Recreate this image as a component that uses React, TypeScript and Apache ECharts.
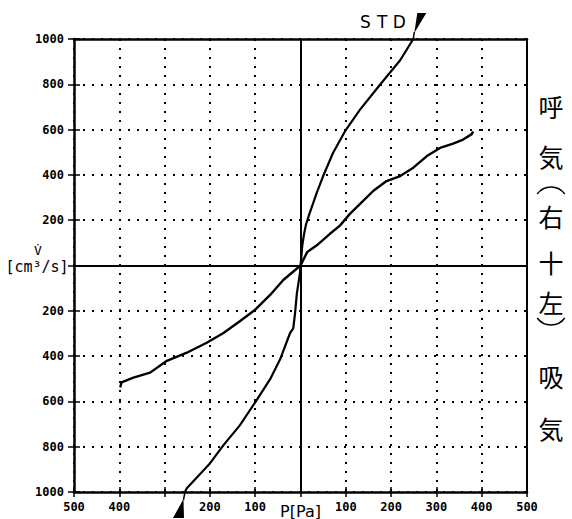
import React, { useEffect, useRef } from "react";
import * as echarts from "echarts";

// Pressure axis ticks [Pa] and flow axis ticks [cm³/s]
const pMin = -500;
const pMax = 500;
const pStep = 100;
const vMin = -1000;
const vMax = 1000;
const vStep = 200;

// STD reference curve
const stdP = [-255, -251, -200, -170, -134, -100, -67, -45, -23, -16, -12, -8, -4, -1, 0, 2, 4, 8, 12, 20, 27, 36, 50, 72, 98, 131, 175, 220, 249];
const stdV = [-1000, -983, -874, -793, -706, -604, -502, -414, -298, -278, -210, -123, -70, -30, 0, 40, 90, 140, 180, 230, 270, 322, 395, 498, 592, 687, 797, 906, 1000];

// measured curve
const measP = [-398, -395, -369, -332, -295, -251, -207, -170, -134, -100, -67, -38, 0, 15, 36, 65, 87, 109, 131, 161, 190, 220, 249, 279, 308, 337, 359, 378, 381];
const measV = [-538, -516, -495, -473, -421, -385, -341, -298, -246, -195, -130, -64, 0, 60, 89, 140, 176, 228, 271, 330, 373, 395, 432, 483, 519, 538, 556, 580, 592];

// right side caption (vertical): 呼気（右＋左）吸気
const sideChars = ["呼", "気", "右", "十", "左", "吸", "気"];
const sideY = [106, 156, 216, 262, 302, 376, 428];
const bracketOpenY = 196;
const bracketCloseY = 316;

const LABEL_FONT = "'DejaVu Sans Mono', monospace";

export default function App() {
  const ref = useRef<HTMLDivElement>(null);

  useEffect(() => {
    if (!ref.current) return;
    const chart = echarts.init(ref.current, null, { renderer: "svg" });

    const absFmt = (v: number) => String(Math.abs(v));

    const baseX = { type: "value", min: pMin, max: pMax, interval: pStep };
    const baseY = { type: "value", min: vMin, max: vMax, interval: vStep };

    chart.setOption({
      animation: false,
      backgroundColor: "#fff",
      grid: { left: 74, right: 45, top: 39, bottom: 24, containLabel: false },
      xAxis: [
        {
          ...baseX,
          position: "bottom",
          axisLine: { show: true, onZero: false, lineStyle: { color: "#000", width: 2.5 } },
          axisTick: { show: true, inside: false, length: 5, lineStyle: { color: "#000", width: 1.5 } },
          axisLabel: {
            margin: 9,
            color: "#000",
            fontFamily: LABEL_FONT,
            fontWeight: "bold",
            fontSize: 12,
            formatter: (v: number) => (v === 0 ? "{p|P[Pa]}" : v === -300 ? "" : absFmt(v)),
            rich: {
              p: {
                fontFamily: "'DejaVu Sans', sans-serif",
                fontWeight: "normal",
                fontSize: 16,
                color: "#000",
                padding: [2, 0, 0, 0],
              },
            },
          },
          splitLine: { show: true, lineStyle: { color: "#000", type: [2, 7], width: 2 } },
        },
        {
          ...baseX,
          position: "bottom",
          axisLine: { show: false, onZero: false },
          axisTick: { show: true, inside: true, length: 5, lineStyle: { color: "#000", width: 1.5 } },
          axisLabel: { show: false },
          splitLine: { show: false },
        },
        {
          ...baseX,
          position: "top",
          axisLine: { show: true, onZero: false, lineStyle: { color: "#000", width: 2.5 } },
          axisTick: { show: false },
          axisLabel: { show: false },
          splitLine: { show: false },
        },
      ],
      yAxis: [
        {
          ...baseY,
          position: "left",
          axisLine: { show: true, onZero: false, lineStyle: { color: "#000", width: 2.5 } },
          axisTick: { show: true, inside: false, length: 6, lineStyle: { color: "#000", width: 1.5 } },
          axisLabel: {
            margin: 10,
            color: "#000",
            fontFamily: LABEL_FONT,
            fontWeight: "bold",
            fontSize: 12,
            formatter: (v: number) => (v === 0 ? "" : absFmt(v)),
          },
          splitLine: { show: true, lineStyle: { color: "#000", type: [2, 7], width: 2 } },
        },
        {
          ...baseY,
          position: "left",
          axisLine: { show: false, onZero: false },
          axisTick: { show: true, inside: true, length: 6, lineStyle: { color: "#000", width: 1.5 } },
          axisLabel: { show: false },
          splitLine: { show: false },
        },
        {
          ...baseY,
          position: "right",
          axisLine: { show: true, onZero: false, lineStyle: { color: "#000", width: 2 } },
          axisTick: { show: false },
          axisLabel: { show: false },
          splitLine: { show: false },
        },
      ],
      series: [
        {
          name: "STD",
          type: "line",
          xAxisIndex: 0,
          yAxisIndex: 0,
          data: stdP.map((p, i) => [p, stdV[i]]),
          showSymbol: false,
          symbol: "none",
          lineStyle: { color: "#000", width: 2.2 },
          z: 5,
          markLine: {
            silent: true,
            symbol: "none",
            label: { show: false },
            lineStyle: { color: "#000", type: "solid", width: 2 },
            data: [{ xAxis: 0 }, { yAxis: 0 }],
          },
        },
        {
          name: "measured",
          type: "line",
          xAxisIndex: 0,
          yAxisIndex: 0,
          data: measP.map((p, i) => [p, measV[i]]),
          showSymbol: false,
          symbol: "none",
          lineStyle: { color: "#000", width: 2.4 },
          z: 5,
        },
      ],
    });

    const toPx = (p: number, v: number) =>
      chart.convertToPixel({ xAxisIndex: 0, yAxisIndex: 0 }, [p, v]) as number[];

    const top = toPx(stdP[stdP.length - 1], stdV[stdV.length - 1]);
    const bot = toPx(stdP[0], stdV[0]);
    const origin = toPx(0, 0);
    const leftEdge = toPx(pMin, 0);

    const graphic: any[] = [];
    // STD marker (top)
    graphic.push({
      type: "line",
      shape: { x1: top[0], y1: top[1], x2: top[0] + 1, y2: top[1] - 7 },
      style: { stroke: "#000", lineWidth: 1.5 },
    });
    graphic.push({
      type: "polygon",
      shape: { points: [[top[0] + 1, top[1] - 6], [top[0] + 4, top[1] - 26], [top[0] + 13, top[1] - 26]] },
      style: { fill: "#000" },
    });
    // marker (bottom)
    graphic.push({
      type: "line",
      shape: { x1: bot[0], y1: bot[1], x2: bot[0] - 1.5, y2: bot[1] + 8 },
      style: { stroke: "#000", lineWidth: 1.5 },
    });
    graphic.push({
      type: "polygon",
      shape: { points: [[bot[0] - 1.5, bot[1] + 7], [bot[0] - 12, bot[1] + 26], [bot[0] - 1, bot[1] + 26]] },
      style: { fill: "#000" },
    });
    // STD text
    ["S", "T", "D"].forEach((ch, i) => {
      graphic.push({
        type: "text",
        x: top[0] - 48 + i * 17,
        y: top[1] - 17,
        style: {
          text: ch,
          fill: "#000",
          font: "17px 'DejaVu Sans', sans-serif",
          textAlign: "center",
          textVerticalAlign: "middle",
        },
      });
    });
    // V̇ [cm³/s]
    graphic.push({
      type: "text",
      x: leftEdge[0] - 36,
      y: origin[1] - 15,
      style: {
        text: "V\u0307",
        fill: "#000",
        font: "13px 'DejaVu Sans Mono', monospace",
        textAlign: "center",
        textVerticalAlign: "middle",
      },
    });
    graphic.push({
      type: "text",
      x: leftEdge[0] - 37,
      y: origin[1] + 1,
      style: {
        text: "[cm³/s]",
        fill: "#000",
        font: "15px 'DejaVu Sans Mono', monospace",
        textAlign: "center",
        textVerticalAlign: "middle",
      },
    });
    // right vertical caption
    sideChars.forEach((ch, i) => {
      graphic.push({
        type: "text",
        x: 551,
        y: sideY[i],
        style: {
          text: ch,
          fill: "#000",
          font: "25px 'Noto Sans CJK JP', sans-serif",
          textAlign: "center",
          textVerticalAlign: "middle",
        },
      });
    });
    // vertical-form brackets
    graphic.push({
      type: "arc",
      shape: { cx: 551, cy: bracketOpenY + 8, r: 17, startAngle: Math.PI * 1.2, endAngle: Math.PI * 1.8, clockwise: true },
      style: { stroke: "#000", lineWidth: 1.5, fill: "none" },
    });
    graphic.push({
      type: "arc",
      shape: { cx: 551, cy: bracketCloseY - 8, r: 17, startAngle: Math.PI * 0.2, endAngle: Math.PI * 0.8, clockwise: true },
      style: { stroke: "#000", lineWidth: 1.5, fill: "none" },
    });

    chart.setOption({ graphic });

    return () => chart.dispose();
  }, []);

  return (
    <div
      ref={ref}
      style={{ position: "fixed", left: 0, top: 0, width: 572, height: 519, background: "#fff" }}
    />
  );
}
